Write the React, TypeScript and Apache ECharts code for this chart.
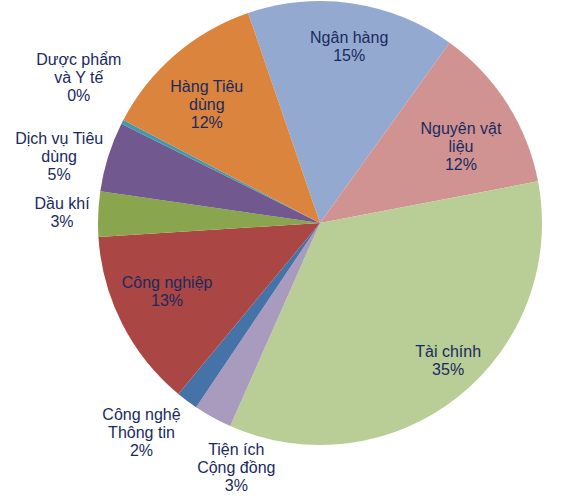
import { useEffect, useRef } from 'react';
import * as echarts from 'echarts';

// sectors, clockwise from the top
const sectors = [
  'Ngân hàng',
  'Nguyên vật\nliệu',
  'Tài chính',
  'Tiện ích\nCộng đồng',
  'Công nghệ\nThông tin',
  'Công nghiệp',
  'Dầu khí',
  'Dịch vụ Tiêu\ndùng',
  'Dược phẩm\nvà Y tế',
  'Hàng Tiêu\ndùng',
];
const weights = [15.2, 12.1, 34.7, 2.8, 1.6, 13.0, 3.3, 5.1, 0.3, 12.1];
const colors = [
  '#93a9cf',
  '#d19392',
  '#b9cd96',
  '#a99bbd',
  '#4572a7',
  '#aa4643',
  '#89a54e',
  '#71588f',
  '#4198af',
  '#db843d',
];

// label placement: shift from the slice's mid angle (deg) and distance as a share of radius
const labelShift = [1, 4, -4.6, -10, 3.6, 3, 0, -3, 4, -3];
const labelDist = [0.804, 0.723, 0.845, 1.165, 1.241, 0.754, 1.163, 1.213, 1.269, 0.739];

const CX = 320;
const CY = 223;
const R = 222;
const START = -18.9; // degrees clockwise from 12 o'clock

export default function App() {
  const ref = useRef<HTMLDivElement>(null);

  useEffect(() => {
    if (!ref.current) return;
    const chart = echarts.init(ref.current, undefined, { renderer: 'svg' });

    const total = weights.reduce((a, b) => a + b, 0);
    const mids: number[] = [];
    let acc = START;
    weights.forEach((w) => {
      const span = (w / total) * 360;
      mids.push(acc + span / 2);
      acc += span;
    });

    chart.setOption({
      animation: false,
      backgroundColor: '#fff',
      series: [
        {
          type: 'pie',
          center: [CX, CY],
          radius: [0, R],
          startAngle: 90 - START,
          clockwise: true,
          avoidLabelOverlap: false,
          minAngle: 0,
          data: sectors.map((name, i) => ({
            name,
            value: weights[i],
            itemStyle: { color: colors[i] },
          })),
          itemStyle: { borderWidth: 0 },
          emphasis: { disabled: true },
          label: {
            show: true,
            position: 'inside',
            formatter: (p: any) => `${p.name}\n${Math.round(p.percent)}%`,
            fontFamily: 'Liberation Sans, Arial, sans-serif',
            fontSize: 16,
            lineHeight: 18,
            color: '#1a2a5e',
            align: 'center',
          },
          labelLine: { show: false },
          labelLayout: (params: any) => {
            const i = params.dataIndex;
            const a = ((mids[i] + labelShift[i]) * Math.PI) / 180;
            const d = labelDist[i] * R;
            return {
              x: CX + d * Math.sin(a),
              y: CY - d * Math.cos(a),
              align: 'center',
              verticalAlign: 'middle',
            };
          },
        },
      ],
    });

    return () => {
      chart.dispose();
    };
  }, []);

  return (
    <div
      ref={ref}
      style={{ position: 'absolute', left: 0, top: 0, width: 566, height: 504 }}
    />
  );
}
